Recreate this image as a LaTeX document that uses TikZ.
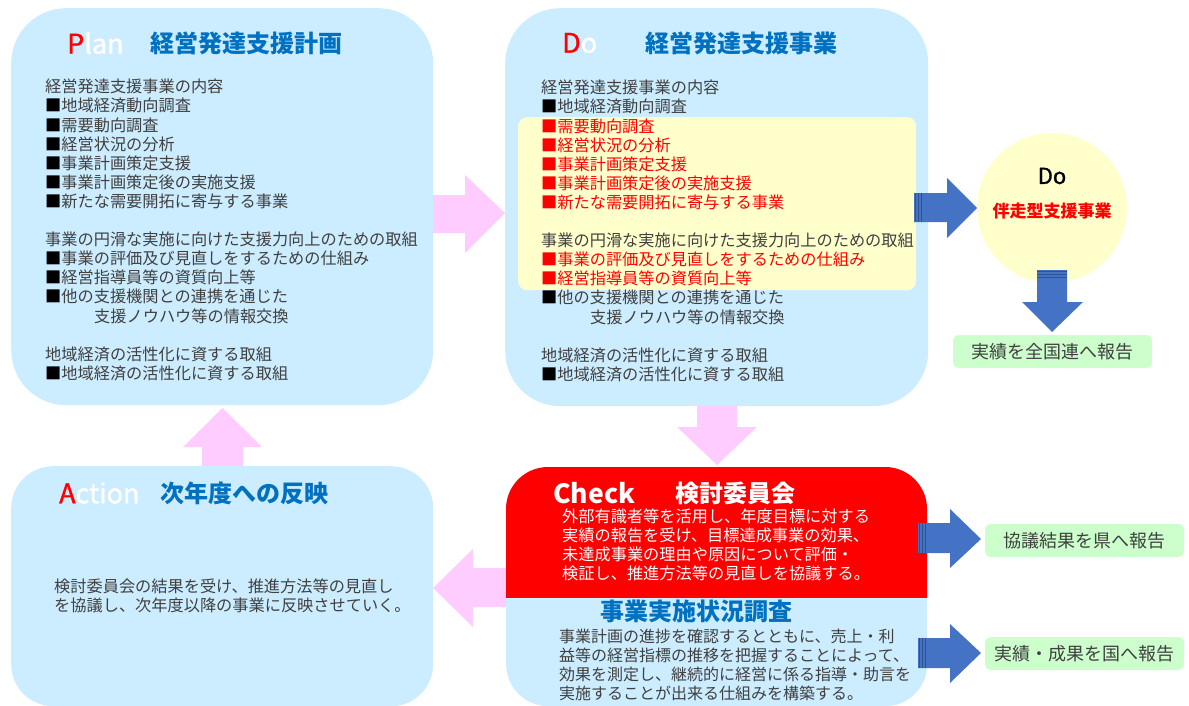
\documentclass[tikz,border=0pt]{standalone}
\usepackage{fontspec}
\setmainfont{Noto Sans CJK JP}
\newfontfamily\medfont[FakeBold=1.2]{Noto Sans CJK JP}
\usetikzlibrary{calc}
\definecolor{lblue}{HTML}{CCECFF}
\definecolor{lpink}{HTML}{FFCCFF}
\definecolor{lyellow}{HTML}{FFFFCC}
\definecolor{lgreen}{HTML}{CCFFCC}
\definecolor{tblue}{HTML}{0070C0}
\definecolor{tgrey}{HTML}{404040}
\definecolor{ablue}{HTML}{4472C4}
\definecolor{adark}{HTML}{2F528F}
\definecolor{pred}{HTML}{FF0000}
\newcommand{\sq}{{\color{black}■}}
\begin{document}
\begin{tikzpicture}[x=1pt,y=-1pt,
  bigbox/.style={anchor=north west, inner sep=0pt, fill=lblue, draw=none, rounded corners=55pt},
  midbox/.style={anchor=north west, inner sep=0pt, fill=lblue, draw=none, rounded corners=42pt},
  body/.style={anchor=north west, inner sep=0pt, align=left, text=tgrey, font=\fontsize{16.2}{19.1}\selectfont},
  ttl/.style={anchor=west, inner sep=0pt, text=tblue, font=\fontsize{24}{28}\selectfont\bfseries},
  latin/.style={anchor=west, inner sep=0pt, text=white, font=\medfont\fontsize{27}{30}\selectfont},
  pinkarrow/.style={fill=lpink, draw=none},
  bluearrow/.style={fill=ablue, draw=none},
  stripe/.style={draw=adark, line width=0.7pt},
  report/.style={fill=lgreen, rounded corners=6pt, inner sep=0pt, text=tgrey, font=\fontsize{18}{20}\selectfont},
]
\useasboundingbox (0,0) rectangle (1189,706);

% pink cycle arrows (behind boxes)
\path[pinkarrow] (433,195) -- (465,195) -- (465,175) -- (505,213) -- (465,253) -- (465,233) -- (433,233) -- cycle;
\path[pinkarrow] (697,404) -- (737,404) -- (737,427) -- (757,427) -- (717,465) -- (677,427) -- (697,427) -- cycle;
\path[pinkarrow] (510,568) -- (473,568) -- (473,549) -- (433,588) -- (473,627) -- (473,607) -- (510,607) -- cycle;
\path[pinkarrow] (202,470) -- (202,447) -- (183,447) -- (222.5,408) -- (262,447) -- (243,447) -- (243,470) -- cycle;

% main boxes
\node[bigbox, minimum width=422pt, minimum height=397pt] (plan) at (11,8) {};
\node[bigbox, minimum width=423pt, minimum height=398pt] (do) at (505,8) {};
\node[midbox, minimum width=422pt, minimum height=240pt] (action) at (11,466) {};
\node[midbox, minimum width=421pt, minimum height=239pt] (check) at (506,467) {};
\begin{scope}
  \clip (506,460) rectangle (930,597);
  \path[fill=pred, rounded corners=42pt] (506,467) rectangle (927,706);
\end{scope}
\node[anchor=north west, inner sep=0pt, fill=lyellow, rounded corners=9pt,
  minimum width=398pt, minimum height=173pt] (hl) at (518,117) {};

% Plan
\node[latin] (planL) at (67,43) {\textcolor{pred}{P}lan};
\node[ttl] (planT) at (150,43) {経営発達支援計画};
\node[body] (planB) at (45,79) {経営発達支援事業の内容\\
\sq 地域経済動向調査\\
\sq 需要動向調査\\
\sq 経営状況の分析\\
\sq 事業計画策定支援\\
\sq 事業計画策定後の実施支援\\
\sq 新たな需要開拓に寄与する事業\\[19.1pt]
事業の円滑な実施に向けた支援力向上のための取組\\
\sq 事業の評価及び見直しをするための仕組み\\
\sq 経営指導員等の資質向上等\\
\sq 他の支援機関との連携を通じた\\
\hspace*{49pt}支援ノウハウ等の情報交換\\[19.1pt]
地域経済の活性化に資する取組\\
\sq 地域経済の活性化に資する取組};

% Do
\node[latin] (doL) at (562,43) {\textcolor{pred}{D}o};
\node[ttl] (doT) at (645,43) {経営発達支援事業};
\node[body] (doB) at (541,80) {経営発達支援事業の内容\\
\sq 地域経済動向調査\\
\textcolor{pred}{■需要動向調査}\\
\textcolor{pred}{■経営状況の分析}\\
\textcolor{pred}{■事業計画策定支援}\\
\textcolor{pred}{■事業計画策定後の実施支援}\\
\textcolor{pred}{■新たな需要開拓に寄与する事業}\\[19.1pt]
事業の円滑な実施に向けた支援力向上のための取組\\
\textcolor{pred}{■事業の評価及び見直しをするための仕組み}\\
\textcolor{pred}{■経営指導員等の資質向上等}\\
\sq 他の支援機関との連携を通じた\\
\hspace*{49pt}支援ノウハウ等の情報交換\\[19.1pt]
地域経済の活性化に資する取組\\
\sq 地域経済の活性化に資する取組};

% Action
\node[latin] (actL) at (59,493) {\textcolor{pred}{A}ction};
\node[ttl] (actT) at (160,493) {次年度への反映};
\node[body, font=\fontsize{16.2}{19}\selectfont] (actB) at (54,579) {検討委員会の結果を受け、推進方法等の見直し\\
を協議し、次年度以降の事業に反映させていく。};

% Check
\node[latin, font=\fontsize{26.5}{30}\selectfont\bfseries] (chkL) at (553,493) {Check};
\node[ttl, text=white] (chkT) at (675,493) {検討委員会};
\node[body, text=white, font=\fontsize{16.2}{19}\selectfont] (chkB) at (562,509) {外部有識者等を活用し、年度目標に対する\\
実績の報告を受け、目標達成事業の効果、\\
未達成事業の理由や原因について評価・\\
検証し、推進方法等の見直しを協議する。};
\node[ttl] (survT) at (600,611) {事業実施状況調査};
\node[body, font=\fontsize{16}{18.8}\selectfont] (survB) at (559,629) {事業計画の進捗を確認するとともに、売上・利\\
益等の経営指標の推移を把握することによって、\\
効果を測定し、継続的に経営に係る指導・助言を\\
実施することが出来る仕組みを構築する。};

% Do (accompanying support) circle
\node[circle, fill=lyellow, minimum size=150pt, inner sep=0pt] (acc) at (1052,208) {};
\node[inner sep=0pt, font=\medfont\fontsize{22}{24}\selectfont] (accL) at (1052,176) {Do};
\node[inner sep=0pt, text=pred, font=\fontsize{17}{20}\selectfont\bfseries] (accT) at (1052,211) {伴走型支援事業};

% report boxes
\node[report, minimum width=199pt, minimum height=33pt] (rep1) at (1052.5,351.5) {実績を全国連へ報告};
\node[report, minimum width=199pt, minimum height=33pt] (rep2) at (1084.5,540.5) {協議結果を県へ報告};
\node[report, minimum width=199pt, minimum height=33pt] (rep3) at (1084.5,653.5) {実績・成果を国へ報告};

% blue striped arrows
\path[bluearrow] (914,193) -- (947,193) -- (947,178) -- (977,208) -- (947,238) -- (947,222) -- (914,222) -- cycle;
\foreach \x in {915.5,918.5,921.5} \draw[stripe] (\x,193) -- (\x,222);
\path[bluearrow] (1037,270) -- (1037,302) -- (1022,302) -- (1052,332) -- (1083,302) -- (1067,302) -- (1067,270) -- cycle;
\foreach \y in {271.5,274.5,277.5} \draw[stripe] (1037,\y) -- (1067,\y);
\path[bluearrow] (918,523) -- (950,523) -- (950,509) -- (981,539) -- (950,568) -- (950,553) -- (918,553) -- cycle;
\foreach \x in {919.5,922.5,925.5} \draw[stripe] (\x,523) -- (\x,553);
\path[bluearrow] (918,638) -- (950,638) -- (950,624) -- (981,653) -- (950,683) -- (950,668) -- (918,668) -- cycle;
\foreach \x in {919.5,922.5,925.5} \draw[stripe] (\x,638) -- (\x,668);
\end{tikzpicture}
\end{document}
